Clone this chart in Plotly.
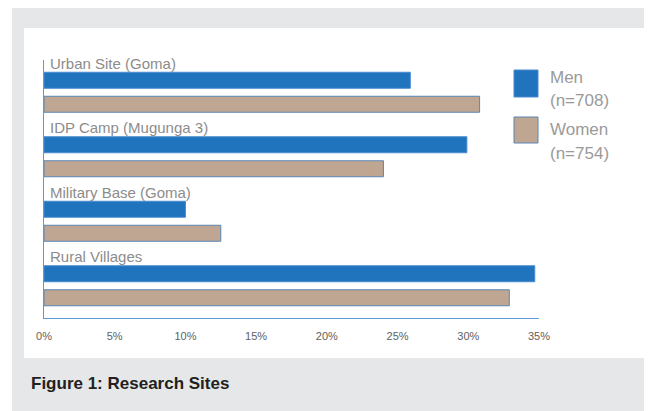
import plotly.graph_objects as go

# Research sites, top to bottom
sites = ['Urban Site (Goma)', 'IDP Camp (Mugunga 3)', 'Military Base (Goma)', 'Rural Villages']
men_pct = [25.9, 29.9, 10.0, 34.7]
women_pct = [30.8, 24.0, 12.5, 32.9]
tick_vals = [0, 5, 10, 15, 20, 25, 30, 35]
tick_text = ['0%', '5%', '10%', '15%', '20%', '25%', '30%', '35%']

MEN_BLUE = '#1f74bd'
WOMEN_TAN = '#bfa693'
AXIS_BLUE = '#5b9bd5'
LABEL_GREY = '#8c8c8c'
FONT = 'Liberation Sans, Arial, sans-serif'

# the page body has an 8px margin, so the figure is drawn 8px in
OFF = 8
W, H = 652 - OFF, 411 - OFF
# plot area in page pixels: x 44..539, y 60..318
L, R, T, B = 44 - OFF, 652 - 539, 60 - OFF, 411 - 318
PW, PH = W - L - R, H - T - B


def px_x(p):
    return (p - OFF - L) / PW


def px_y(p):
    return (H - B - (p - OFF)) / PH


fig = go.Figure()

fig.add_trace(go.Bar(
    name='Men (n=708)', y=sites, x=men_pct, orientation='h',
    marker=dict(color=MEN_BLUE, line=dict(color='#4a8ad0', width=1)),
    showlegend=False,
))
fig.add_trace(go.Bar(
    name='Women (n=754)', y=sites, x=women_pct, orientation='h',
    marker=dict(color=WOMEN_TAN, line=dict(color='#5a86b2', width=1)),
    showlegend=False,
))

# background panels
shapes = [
    dict(type='rect', xref='paper', yref='paper', layer='below',
         x0=px_x(12), x1=px_x(652), y0=px_y(8), y1=px_y(411),
         fillcolor='#e6e7e8', line=dict(width=0)),
    dict(type='rect', xref='paper', yref='paper', layer='below',
         x0=px_x(24), x1=px_x(644), y0=px_y(28), y1=px_y(358),
         fillcolor='white', line=dict(width=0)),
    # legend swatches
    dict(type='rect', xref='paper', yref='paper',
         x0=px_x(514), x1=px_x(538), y0=px_y(70), y1=px_y(97),
         fillcolor=MEN_BLUE, line=dict(color='#4a8ad0', width=1)),
    dict(type='rect', xref='paper', yref='paper',
         x0=px_x(514), x1=px_x(538), y0=px_y(117), y1=px_y(143),
         fillcolor=WOMEN_TAN, line=dict(color='#5a86b2', width=1)),
]

annotations = []
for s in sites:
    annotations.append(dict(
        x=0, y=s, xref='x', yref='y', text=s, showarrow=False,
        xanchor='left', yanchor='middle', xshift=4, yshift=29,
        font=dict(family=FONT, size=15, color=LABEL_GREY),
    ))

legend_txt = [('Men', 77), ('(n=708)', 100), ('Women', 129), ('(n=754)', 153)]
for txt, yy in legend_txt:
    annotations.append(dict(
        x=px_x(548), y=px_y(yy), xref='paper', yref='paper', text=txt,
        showarrow=False, xanchor='left', yanchor='middle',
        font=dict(family=FONT, size=17, color='#9a9a9a'),
    ))

annotations.append(dict(
    x=px_x(29), y=px_y(383), xref='paper', yref='paper',
    text='<b>Figure 1: Research Sites</b>', showarrow=False,
    xanchor='left', yanchor='middle',
    font=dict(family=FONT, size=17, color='#231f20'),
))

fig.update_layout(
    width=W, height=H,
    margin=dict(l=L, r=R, t=T, b=B),
    paper_bgcolor='white',
    plot_bgcolor='rgba(0,0,0,0)',
    barmode='group',
    bargap=0.256,
    bargroupgap=0.333,
    shapes=shapes,
    annotations=annotations,
    showlegend=False,
)

fig.update_xaxes(
    range=[0, 35], tickvals=tick_vals, ticktext=tick_text,
    showgrid=False, zeroline=False,
    showline=True, linecolor=AXIS_BLUE, linewidth=1,
    ticks='outside', ticklen=8, tickcolor='rgba(0,0,0,0)',
    tickfont=dict(family=FONT, size=11, color='#606060'),
)
fig.update_yaxes(
    range=[len(sites) - 0.5, -0.5], showticklabels=False,
    showgrid=False, zeroline=False,
    showline=True, linecolor=AXIS_BLUE, linewidth=1,
)

fig.write_html('out.html')
